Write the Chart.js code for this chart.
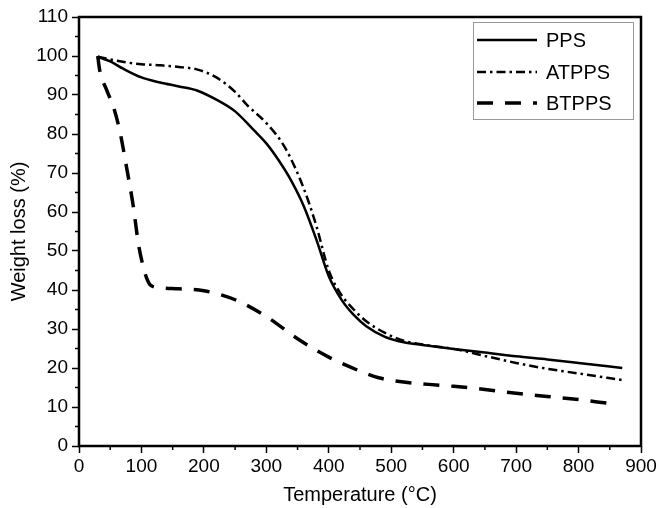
<!DOCTYPE html>
<html>
<head>
<meta charset="utf-8">
<script src="https://cdn.jsdelivr.net/npm/chart.js@4.4.1/dist/chart.umd.min.js"></script>
<style>
html,body{margin:0;padding:0;background:#fff;}
#wrap{width:659px;height:508px;}
</style>
</head>
<body>
<div id="wrap"><canvas id="c" width="659" height="508"></canvas></div>
<script>
// Data
const ppsTemp   = [30, 50, 70, 100, 130, 160, 190, 220, 250, 280, 300, 320, 340, 360, 380, 400, 420, 440, 460, 490, 520, 550, 600, 650, 700, 750, 800, 870];
const ppsWeight = [99.8, 98.6, 96.8, 94.5, 93.2, 92.2, 91.1, 88.8, 85.8, 81.0, 77.6, 73.2, 68.0, 61.5, 53.0, 43.5, 37.6, 33.6, 30.7, 28.0, 26.6, 25.9, 24.9, 24.0, 23.0, 22.2, 21.3, 20.0];

const atTemp   = [30, 70, 100, 130, 160, 190, 220, 250, 270, 300, 330, 360, 380, 400, 420, 440, 460, 490, 520, 560, 600, 650, 700, 750, 800, 870];
const atWeight = [99.8, 98.5, 97.9, 97.6, 97.2, 96.5, 94.5, 90.8, 87.3, 82.8, 76.5, 66.0, 56.5, 45.0, 38.8, 35.0, 32.0, 29.0, 27.0, 25.8, 24.9, 23.1, 21.3, 19.8, 18.6, 16.9];

const btTemp   = [30, 33, 45, 55, 65, 76, 87, 95, 102, 108, 115, 130, 160, 200, 250, 300, 350, 400, 450, 480, 520, 560, 600, 650, 700, 750, 800, 845];
const btWeight = [100, 96.5, 91.0, 87.0, 81.0, 71.6, 61.4, 52.0, 46.5, 43.2, 41.2, 40.6, 40.3, 39.8, 37.5, 33.2, 27.5, 22.8, 19.2, 17.5, 16.4, 15.8, 15.3, 14.5, 13.5, 12.7, 11.9, 11.0];

const seriesNames = ['PPS', 'ATPPS', 'BTPPS'];
const xMin = 0, xMax = 900, xStep = 100, xMinor = 50;
const yMin = 0, yMax = 110, yStep = 10, yMinor = 5;

function pts(xs, ys){ return xs.map((x,i)=>({x:x, y:ys[i]})); }

const FONT = "'Liberation Sans', Arial, Helvetica, sans-serif";

const frameAndMinor = {
  id: 'frameAndMinor',
  afterDraw(chart){
    const ctx = chart.ctx, a = chart.chartArea;
    const xs = chart.scales.x, ys = chart.scales.y;
    ctx.save();
    ctx.strokeStyle = '#000';
    ctx.lineWidth = 1.5;
    // minor ticks
    ctx.beginPath();
    for (let v = xMin + xMinor; v < xMax; v += xStep){
      const p = xs.getPixelForValue(v);
      ctx.moveTo(p, a.bottom); ctx.lineTo(p, a.bottom + 4);
    }
    for (let v = yMin + yMinor; v < yMax; v += yStep){
      const p = ys.getPixelForValue(v);
      ctx.moveTo(a.left, p); ctx.lineTo(a.left - 4, p);
    }
    ctx.stroke();
    // frame
    ctx.lineWidth = 2.5;
    ctx.strokeRect(a.left, a.top, a.right - a.left, a.bottom - a.top);
    // legend box
    const lx = 473, ly = 22, lw = 160, lh = 97;
    ctx.lineWidth = 1;
    ctx.strokeStyle = '#999';
    ctx.strokeRect(lx + 0.5, ly + 0.5, lw, lh);
    const rows = [40, 72, 103];
    chart.data.datasets.forEach((ds, i) => {
      ctx.strokeStyle = '#000';
      ctx.lineWidth = ds.borderWidth;
      ctx.setLineDash(ds.borderDash || []);
      ctx.beginPath();
      ctx.moveTo(477, rows[i]); ctx.lineTo(537, rows[i]);
      ctx.stroke();
      ctx.setLineDash([]);
      ctx.fillStyle = '#000';
      ctx.font = '20px ' + FONT;
      ctx.textBaseline = 'middle';
      ctx.textAlign = 'left';
      ctx.fillText(ds.label, 546, rows[i] + 1);
    });
    ctx.restore();
  }
};

new Chart(document.getElementById('c'), {
  type: 'line',
  data: {
    datasets: [
      { label: seriesNames[0], data: pts(ppsTemp, ppsWeight), borderColor: '#000', borderWidth: 2.5, borderDash: [], pointRadius: 0, cubicInterpolationMode: 'monotone', fill: false },
      { label: seriesNames[1], data: pts(atTemp, atWeight), borderColor: '#000', borderWidth: 2.5, borderDash: [9, 4, 2.5, 4], pointRadius: 0, cubicInterpolationMode: 'monotone', fill: false },
      { label: seriesNames[2], data: pts(btTemp, btWeight), borderColor: '#000', borderWidth: 3.5, borderDash: [16, 12], pointRadius: 0, cubicInterpolationMode: 'monotone', fill: false }
    ]
  },
  options: {
    responsive: false,
    animation: false,
    layout: { padding: { left: 0, right: 18, top: 17, bottom: 0 } },
    plugins: { legend: { display: false }, tooltip: { enabled: false } },
    scales: {
      x: {
        type: 'linear', min: xMin, max: xMax,
        afterFit(s){ s.height = 62; },
        ticks: { stepSize: xStep, color: '#000', font: { family: FONT, size: 19 }, padding: 2, maxRotation: 0 },
        grid: { drawOnChartArea: false, tickLength: 7, tickWidth: 1.5, tickColor: '#000' },
        border: { display: false },
        title: { display: true, text: 'Temperature (°C)', color: '#000', font: { family: FONT, size: 20 }, padding: { top: 0, bottom: 1 } }
      },
      y: {
        type: 'linear', min: yMin, max: yMax,
        afterFit(s){ s.width = 79; },
        ticks: { stepSize: yStep, color: '#000', font: { family: FONT, size: 19 }, padding: 4 },
        grid: { drawOnChartArea: false, tickLength: 7, tickWidth: 1.5, tickColor: '#000' },
        border: { display: false },
        title: { display: true, text: 'Weight loss (%)', color: '#000', font: { family: FONT, size: 20 }, padding: { top: 7, bottom: 0 } }
      }
    }
  },
  plugins: [frameAndMinor]
});
</script>
</body>
</html>
